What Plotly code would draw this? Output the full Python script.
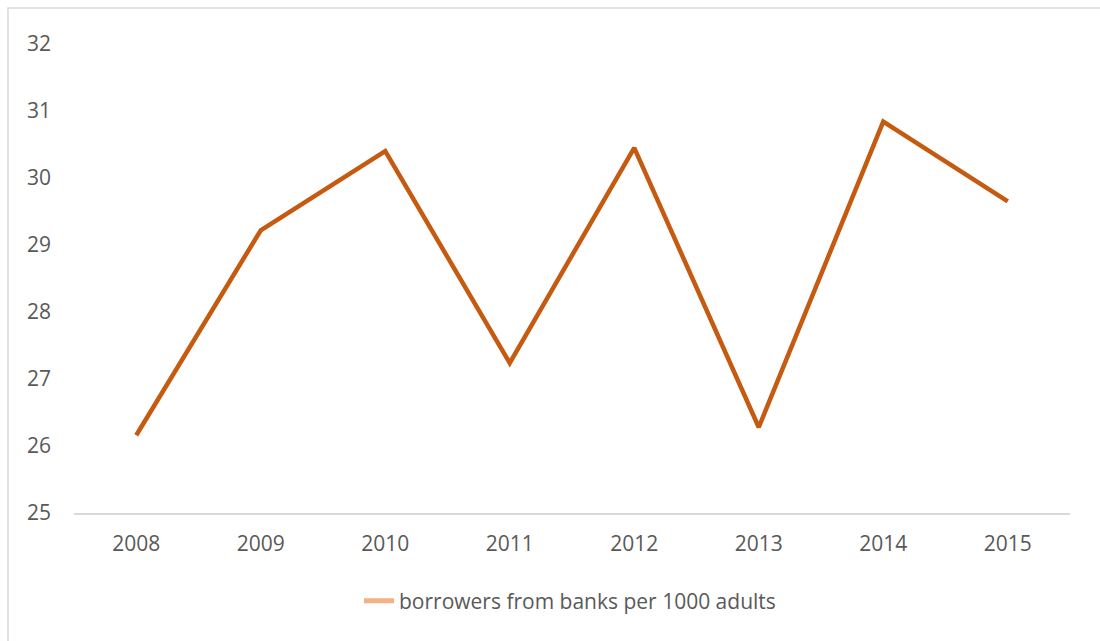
import plotly.graph_objects as go

years = ["2008", "2009", "2010", "2011", "2012", "2013", "2014", "2015"]
borrowers = [26.16, 29.22, 30.40, 27.24, 30.45, 26.28, 30.84, 29.65]
series_name = "borrowers from banks per 1000 adults"
y_ticks = [25, 26, 27, 28, 29, 30, 31, 32]

W, H = 1100, 641
L, R, T, B = 74, 30, 44, 128
pw, ph = W - L - R, H - T - B

fig = go.Figure()
fig.add_trace(go.Scatter(
    x=years, y=borrowers, mode="lines",
    line=dict(color="#C55A11", width=4.5),
    showlegend=False, hoverinfo="x+y",
))
# legend entry (lighter swatch as in the reference)
fig.add_trace(go.Scatter(
    x=[None], y=[None], mode="lines", name=series_name,
    line=dict(color="#F4B183", width=5),
))

font_family = "Open Sans, Lato, sans-serif"
fs = 21
fig.update_layout(
    width=W, height=H,
    margin=dict(l=L, r=R, t=T, b=B),
    paper_bgcolor="white", plot_bgcolor="white",
    font=dict(family=font_family, size=fs, color="#595959"),
    xaxis=dict(
        type="category", range=[-0.5, 7.5],
        showgrid=False, zeroline=False,
        showline=True, linecolor="#D9D9D9", linewidth=1.5,
        ticks="", ticklabelstandoff=11,
        tickfont=dict(size=fs, color="#595959"),
    ),
    yaxis=dict(
        range=[25, 32], tickvals=y_ticks,
        showgrid=False, zeroline=False, showline=False,
        ticks="", ticklabelstandoff=22,
        tickfont=dict(size=fs, color="#595959"),
    ),
    legend=dict(
        orientation="h", x=(570 - L) / pw, xanchor="center",
        y=(H - B - 601) / ph, yanchor="middle",
        font=dict(size=fs, color="#595959"),
        bgcolor="rgba(0,0,0,0)",
    ),
    shapes=[dict(
        type="rect", xref="paper", yref="paper",
        x0=(8 - L) / pw, x1=(W + 20 - L) / pw,
        y0=-(B + 20) / ph, y1=(H - B - 8) / ph,
        line=dict(color="#D9D9D9", width=1.5), fillcolor="rgba(0,0,0,0)",
        layer="below",
    )],
)

fig.write_html("out.html")
